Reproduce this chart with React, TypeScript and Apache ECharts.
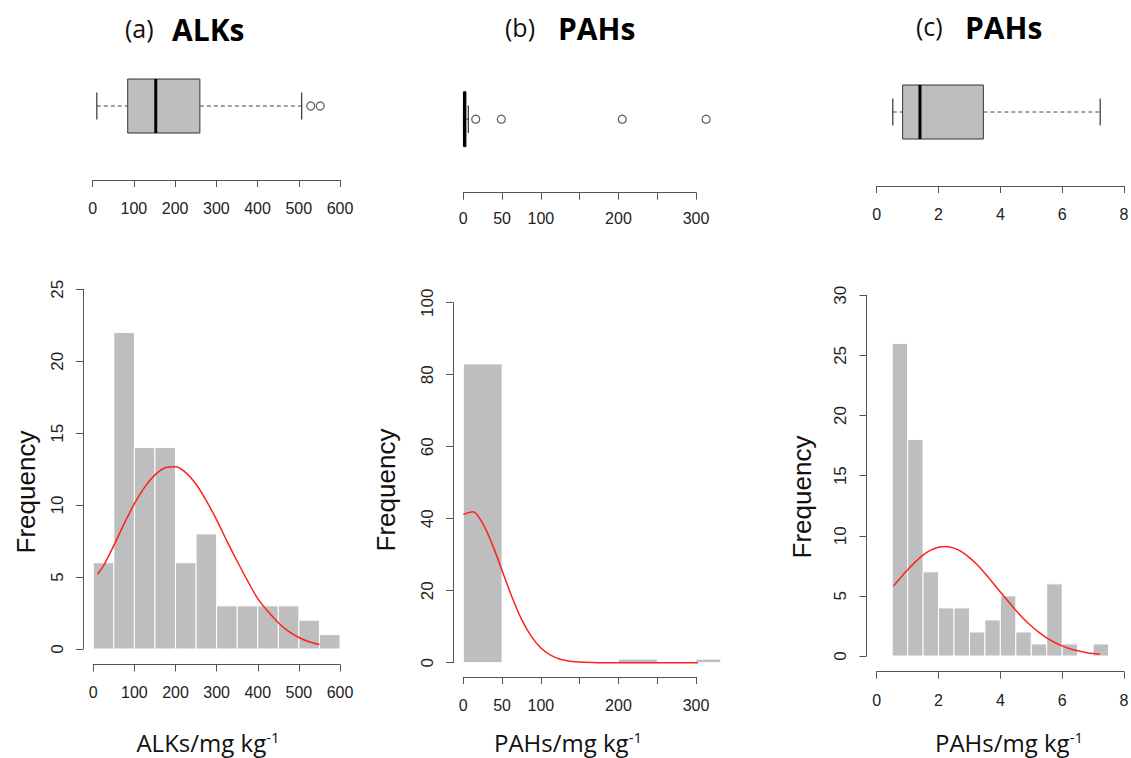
import React, { useEffect, useRef } from "react";
import * as echarts from "echarts";

// ---------- data ----------
// Box plot summaries: [lower whisker, Q1, median, Q3, upper whisker]
const boxA = [10, 85, 153, 260, 507];
const outliersA = [529, 552];
const boxB = [0.3, 0.8, 1.5, 3.5, 6.5];
const outliersB = [16, 49, 205, 313];
const boxC = [0.52, 0.84, 1.4, 3.45, 7.23];
const outliersC: number[] = [];

// Histogram bins and counts
const binEdgesA = [0, 50, 100, 150, 200, 250, 300, 350, 400, 450, 500, 550, 600];
const countsA = [6, 22, 14, 14, 6, 8, 3, 3, 3, 3, 2, 1];
const binEdgesB = [0, 50, 100, 150, 200, 250, 300, 350];
const countsB = [83, 0, 0, 0, 1, 0, 1];
const binEdgesC = [0.5, 1, 1.5, 2, 2.5, 3, 3.5, 4, 4.5, 5, 5.5, 6, 6.5, 7, 7.5];
const countsC = [26, 18, 7, 4, 4, 2, 3, 5, 2, 1, 6, 1, 0, 1];

// Fitted curves
const curveAX = [10, 25, 50, 75, 100, 125, 150, 175, 200, 225, 250, 275, 300, 325, 350, 375, 400, 425, 450, 475, 500, 525, 550];
const curveAY = [5.2, 5.8, 7.2, 8.7, 10.1, 11.25, 12.1, 12.6, 12.66, 12.26, 11.45, 10.3, 8.98, 7.5, 6.1, 4.75, 3.5, 2.6, 1.83, 1.23, 0.8, 0.5, 0.31];
const curveBX = [0, 12.5, 25, 37.5, 50, 62.5, 75, 87.5, 100, 112.5, 125, 137.5, 150, 175, 200, 225, 250, 275, 300, 313];
const curveBY = [41.2, 41.9, 38.7, 32.8, 25.6, 18.4, 12.1, 7.36, 4.1, 2.1, 0.98, 0.43, 0.17, 0.02, 0, 0, 0, 0, 0, 0];
const curveCX = [0.54, 0.75, 1, 1.25, 1.5, 1.75, 2, 2.25, 2.5, 2.75, 3, 3.25, 3.5, 3.75, 4, 4.25, 4.5, 4.75, 5, 5.25, 5.5, 5.75, 6, 6.25, 6.5, 6.75, 7, 7.22];
const curveCY = [5.8, 6.44, 7.17, 7.83, 8.39, 8.8, 9.04, 9.1, 8.97, 8.66, 8.18, 7.59, 6.89, 6.12, 5.33, 4.55, 3.8, 3.1, 2.49, 1.96, 1.5, 1.13, 0.84, 0.6, 0.43, 0.3, 0.2, 0.14];

// Axis ticks
const ticksBLabels = [0, 50, 100, 200, 300];

const titles = [
  { tag: "(a)", name: "ALKs", xlab: "ALKs/mg kg" },
  { tag: "(b)", name: "PAHs", xlab: "PAHs/mg kg" },
  { tag: "(c)", name: "PAHs", xlab: "PAHs/mg kg" },
];

// ---------- styling helpers ----------
const AXIS_COLOR = "#555";
const LABEL_COLOR = "#222";
const TICK_FONT = "Liberation Sans";
const CAL_FONT = "Open Sans";

function App() {
  const ref = useRef<HTMLDivElement>(null);

  useEffect(() => {
    document.body.style.margin = "0";
    if (!ref.current) return;
    const chart = echarts.init(ref.current, null, { renderer: "svg" });

    const boxRender = (params: any, api: any) => {
      const lo = api.value(0), q1 = api.value(1), md = api.value(2), q3 = api.value(3), hi = api.value(4);
      const yTop = api.coord([lo, 1])[1];
      const yBot = api.coord([lo, 0])[1];
      const yMid = (yTop + yBot) / 2;
      const capH = (yBot - yTop) * 0.25;
      const X = (v: number) => api.coord([v, 0.5])[0];
      return {
        type: "group",
        children: [
          { type: "line", shape: { x1: X(lo), y1: yMid, x2: X(q1), y2: yMid }, style: { stroke: "#444", lineWidth: 1, lineDash: [4, 3] } },
          { type: "line", shape: { x1: X(q3), y1: yMid, x2: X(hi), y2: yMid }, style: { stroke: "#444", lineWidth: 1, lineDash: [4, 3] } },
          { type: "line", shape: { x1: X(lo), y1: yMid - capH, x2: X(lo), y2: yMid + capH }, style: { stroke: "#333", lineWidth: 1.2 } },
          { type: "line", shape: { x1: X(hi), y1: yMid - capH, x2: X(hi), y2: yMid + capH }, style: { stroke: "#333", lineWidth: 1.2 } },
          { type: "rect", shape: { x: X(q1), y: yTop, width: X(q3) - X(q1), height: yBot - yTop }, style: { fill: "#bebebe", stroke: "#333", lineWidth: 1 } },
          { type: "line", shape: { x1: X(md), y1: yTop, x2: X(md), y2: yBot }, style: { stroke: "#000", lineWidth: 3 } },
        ],
      };
    };

    const histRender = (clipMax: number) => (params: any, api: any) => {
      const x0 = api.value(0), x1 = Math.min(api.value(1), clipMax), c = api.value(2);
      if (!c) return { type: "group", children: [] };
      const p0 = api.coord([x0, c]);
      const p1 = api.coord([x1, 0]);
      return {
        type: "rect",
        shape: { x: p0[0], y: p0[1], width: p1[0] - p0[0], height: p1[1] - p0[1] },
        style: { fill: "#bebebe", stroke: "#ffffff", lineWidth: 1 },
      };
    };

    const binsData = (edges: number[], counts: number[]) =>
      counts.map((c, i) => [edges[i], edges[i + 1], c]);

    const grids = [
      { left: 92.7, top: 79, width: 247.3, height: 54 },
      { left: 463.3, top: 91.7, width: 232.7, height: 55 },
      { left: 876.7, top: 85, width: 247.3, height: 54 },
      { left: 93.3, top: 289.3, width: 246.7, height: 359.7 },
      { left: 463.3, top: 302.7, width: 232.7, height: 360 },
      { left: 876.7, top: 295.3, width: 247.3, height: 360.7 },
    ].map((g) => ({ ...g, containLabel: false, outerBoundsMode: "none" }));

    const xAxisBase = (gridIndex: number, max: number, interval: number, offset: number, margin: number, formatter?: any) => ({
      type: "value",
      gridIndex,
      min: 0,
      max,
      interval,
      offset,
      splitLine: { show: false },
      axisLine: { show: true, onZero: false, lineStyle: { color: AXIS_COLOR, width: 1 } },
      axisTick: { show: true, length: 7, lineStyle: { color: AXIS_COLOR, width: 1 } },
      axisLabel: {
        color: LABEL_COLOR,
        fontFamily: TICK_FONT,
        fontSize: 16,
        margin,
        showMinLabel: true,
        showMaxLabel: true,
        hideOverlap: false,
        formatter: formatter || ((v: number) => String(v)),
      },
    });

    const fmtB = (v: number) => (ticksBLabels.indexOf(v) >= 0 ? String(v) : "");

    const xAxis = [
      xAxisBase(0, 600, 100, 47, 20),
      xAxisBase(1, 300, 50, 46, 18, fmtB),
      xAxisBase(2, 8, 2, 47, 20),
      xAxisBase(3, 600, 100, 15.5, 20),
      xAxisBase(4, 300, 50, 14.3, 20, fmtB),
      xAxisBase(5, 8, 2, 15.7, 21),
    ];

    const hiddenY = (gridIndex: number) => ({
      type: "value",
      gridIndex,
      min: 0,
      max: 1,
      show: false,
      axisLine: { onZero: false },
    });

    const yAxisHist = (gridIndex: number, max: number, interval: number) => ({
      type: "value",
      gridIndex,
      min: 0,
      max,
      interval,
      offset: 10.3,
      splitLine: { show: false },
      axisLine: { show: true, onZero: false, lineStyle: { color: AXIS_COLOR, width: 1 } },
      axisTick: { show: true, length: 7, lineStyle: { color: AXIS_COLOR, width: 1 } },
      axisLabel: {
        color: LABEL_COLOR,
        fontFamily: TICK_FONT,
        fontSize: 17,
        rotate: 90,
        margin: 17,
        showMinLabel: true,
        showMaxLabel: true,
      },
    });

    const yAxis = [
      hiddenY(0),
      hiddenY(1),
      hiddenY(2),
      yAxisHist(3, 25, 5),
      yAxisHist(4, 100, 20),
      yAxisHist(5, 30, 5),
    ];

    const boxes = [boxA, boxB, boxC];
    const outs = [outliersA, outliersB, outliersC];
    const hists = [
      { edges: binEdgesA, counts: countsA, clip: 600 },
      { edges: binEdgesB, counts: countsB, clip: 332 },
      { edges: binEdgesC, counts: countsC, clip: 8 },
    ];
    const curves = [
      { x: curveAX, y: curveAY },
      { x: curveBX, y: curveBY },
      { x: curveCX, y: curveCY },
    ];

    const series: any[] = [];
    for (let i = 0; i < 3; i++) {
      series.push({
        type: "custom",
        xAxisIndex: i,
        yAxisIndex: i,
        renderItem: boxRender,
        encode: { x: [0, 1, 2, 3, 4] },
        data: [boxes[i]],
        clip: false,
        silent: true,
        z: 2,
      });
      series.push({
        type: "scatter",
        xAxisIndex: i,
        yAxisIndex: i,
        data: outs[i].map((v) => [v, 0.5]),
        symbol: "circle",
        symbolSize: 8,
        clip: false,
        itemStyle: { color: "#ffffff", borderColor: "#333", borderWidth: 1.2 },
        silent: true,
        z: 3,
      });
      series.push({
        type: "custom",
        xAxisIndex: i + 3,
        yAxisIndex: i + 3,
        renderItem: histRender(hists[i].clip),
        encode: { x: [0, 1], y: 2 },
        data: binsData(hists[i].edges, hists[i].counts),
        clip: false,
        silent: true,
        z: 2,
      });
      series.push({
        type: "line",
        xAxisIndex: i + 3,
        yAxisIndex: i + 3,
        data: curves[i].x.map((x, k) => [x, curves[i].y[k]]),
        showSymbol: false,
        symbol: "none",
        smooth: 0.3,
        clip: false,
        lineStyle: { color: "#ff2020", width: 1.5 },
        silent: true,
        z: 4,
      });
    }

    const tagPos = [
      { tagX: 125, nameX: 172, y: 28 },
      { tagX: 505, nameX: 558, y: 27 },
      { tagX: 916, nameX: 965, y: 26 },
    ];
    const xlabPos = [
      { x: 208, y: 742 },
      { x: 568, y: 742 },
      { x: 1009, y: 742 },
    ];
    const freqPos = [
      { x: 26, y: 492 },
      { x: 386, y: 490 },
      { x: 802, y: 497 },
    ];

    const graphic: any[] = [];
    titles.forEach((t, i) => {
      graphic.push({
        type: "text",
        x: tagPos[i].tagX,
        y: tagPos[i].y,
        style: {
          text: t.tag,
          fill: "#111",
          fontFamily: CAL_FONT,
          fontSize: 25,
          fontWeight: "normal",
          align: "left",
          textAlign: "left",
          verticalAlign: "middle",
          textVerticalAlign: "middle",
        },
      });
      graphic.push({
        type: "text",
        x: tagPos[i].nameX,
        y: tagPos[i].y + 1,
        style: {
          text: t.name,
          fill: "#000",
          fontFamily: CAL_FONT,
          fontSize: 30,
          fontWeight: "bold",
          align: "left",
          textAlign: "left",
          verticalAlign: "middle",
          textVerticalAlign: "middle",
        },
      });
      graphic.push({
        type: "text",
        x: xlabPos[i].x,
        y: xlabPos[i].y,
        style: {
          text: t.xlab + "{sup|-1}",
          fill: "#111",
          fontFamily: CAL_FONT,
          fontSize: 24,
          align: "center",
          textAlign: "center",
          verticalAlign: "middle",
          textVerticalAlign: "middle",
          rich: {
            sup: { fontFamily: CAL_FONT, fontSize: 15, fill: "#111", padding: [0, 0, 10, 0] },
          },
        },
      });
      graphic.push({
        type: "text",
        x: freqPos[i].x,
        y: freqPos[i].y,
        rotation: Math.PI / 2,
        style: {
          text: "Frequency",
          fill: "#111",
          fontFamily: TICK_FONT,
          fontSize: 26,
          align: "center",
          textAlign: "center",
          verticalAlign: "middle",
          textVerticalAlign: "middle",
        },
      });
    });

    chart.setOption({
      animation: false,
      backgroundColor: "#ffffff",
      grid: grids,
      xAxis,
      yAxis,
      series,
      graphic,
    });

    return () => {
      chart.dispose();
    };
  }, []);

  return <div ref={ref} style={{ width: 1131, height: 758, position: "absolute", left: 0, top: 0 }} />;
}

export default App;
